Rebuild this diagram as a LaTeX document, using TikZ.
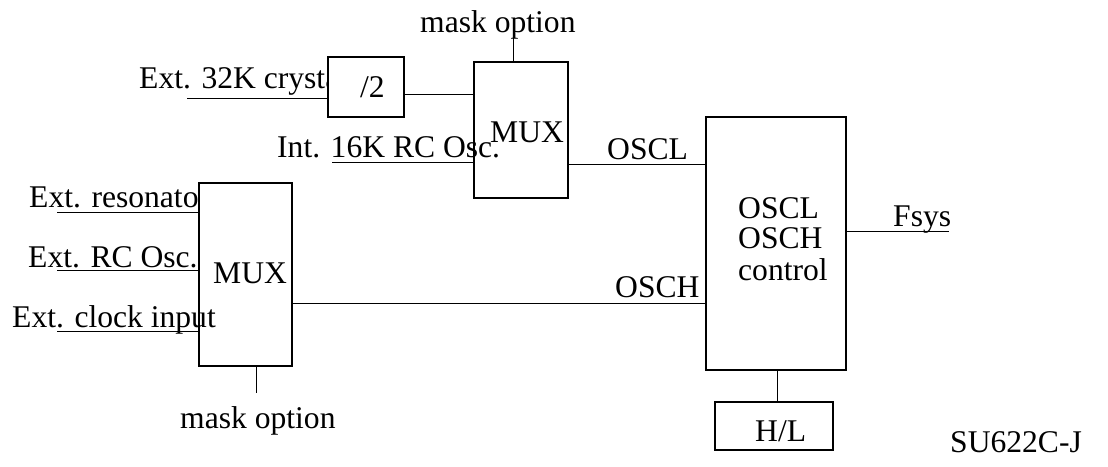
\documentclass[tikz,border=0pt]{standalone}
\usepackage{fontspec}
\setmainfont{Liberation Serif}
\begin{document}
\begin{tikzpicture}[x=1pt,y=-1pt,
  lbl/.style={inner sep=0pt,anchor=base west,font=\fontsize{31.6}{30}\selectfont},
  blk/.style={draw,fill=white,line width=1.1pt,inner sep=0pt},
  wire/.style={line width=1pt}]
\useasboundingbox (0,0) rectangle (1108,466);
% texts hidden partly behind boxes
\node[lbl] (t32) at (139,88) {Ext. 32K crystal};
\node[lbl] (tres) at (29,207) {Ext. resonator};
% boxes
\node[blk,minimum width=76pt,minimum height=60pt] (div) at (366,87) {};
\node[blk,minimum width=94pt,minimum height=136pt] (mux1) at (521,130) {};
\node[blk,minimum width=140pt,minimum height=253pt] (ctrl) at (776,243.5) {};
\node[blk,minimum width=118pt,minimum height=48pt] (hl) at (774,426) {};
\node[blk,minimum width=93pt,minimum height=183pt] (mux2) at (245.5,274.5) {};
% labels
\node[lbl] (mtoptxt) at (420,32) {mask option};
\node[lbl] (divtxt) at (360,97) {/2};
\node[lbl] (t16) at (277,157) {Int. 16K RC Osc.};
\node[lbl] (mux1txt) at (490,142) {MUX};
\node[lbl] (oscl) at (607,159) {OSCL};
\node[lbl] (trc) at (28,267) {Ext. RC Osc.};
\node[lbl] (tclk) at (12,327) {Ext. clock input};
\node[lbl] (mux2txt) at (213,283) {MUX};
\node[lbl] (osch) at (615,297) {OSCH};
\node[lbl] (c1) at (738,218) {OSCL};
\node[lbl] (c2) at (738,248) {OSCH};
\node[lbl] (c3) at (738,280) {control};
\node[lbl] (fsys) at (893,226) {Fsys};
\node[lbl] (hltxt) at (755,441) {H/L};
\node[lbl] (su) at (950,452) {SU622C-J};
\node[lbl] (mbottxt) at (180,428) {mask option};
% free ends
\coordinate (mtop) at (513,38);
\coordinate (in32) at (187,98);
\coordinate (in16) at (332,162);
\coordinate (inres) at (57,212);
\coordinate (inrc) at (57,270);
\coordinate (inclk) at (57,331);
\coordinate (mbot) at (256,393);
\coordinate (fout) at (949,231);
\coordinate (ya) at (0,94);
\coordinate (yb) at (0,164);
\coordinate (yc) at (0,303);
\coordinate (xh) at (777,0);
% connectors
\draw[wire] (mtop) -- (mtop |- mux1.north);
\draw[wire] (in32) -- (in32 -| div.west);
\draw[wire] (div.east |- ya) -- (mux1.west |- ya);
\draw[wire] (in16) -- (in16 -| mux1.west);
\draw[wire] (mux1.east |- yb) -- (ctrl.west |- yb);
\draw[wire] (inres) -- (inres -| mux2.west);
\draw[wire] (inrc) -- (inrc -| mux2.west);
\draw[wire] (inclk) -- (inclk -| mux2.west);
\draw[wire] (mux2.east |- yc) -- (ctrl.west |- yc);
\draw[wire] (mbot |- mux2.south) -- (mbot);
\draw[wire] (fout -| ctrl.east) -- (fout);
\draw[wire] (xh |- ctrl.south) -- (xh |- hl.north);
\end{tikzpicture}
\end{document}
